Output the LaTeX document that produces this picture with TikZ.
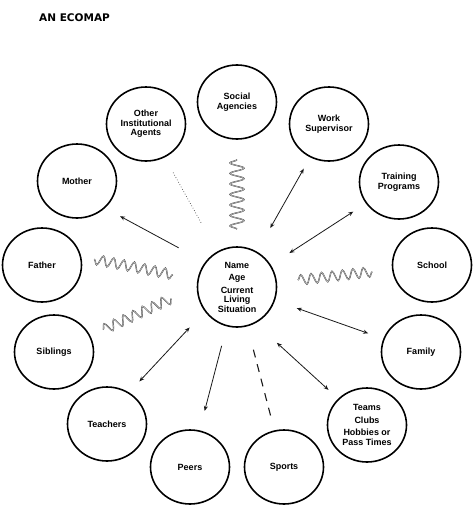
\documentclass[tikz,border=0pt]{standalone}
\usepackage{fontspec}
\setmainfont{Liberation Sans}
\newfontfamily\titlefont{DejaVu Sans}
\usetikzlibrary{shapes.geometric,arrows.meta,decorations.pathmorphing}
\definecolor{cLine}{RGB}{25,25,25}
\definecolor{cWave}{RGB}{70,70,70}
\definecolor{cWaveIn}{RGB}{215,215,215}
\tikzset{
  basebox/.style={ellipse,draw=black,line width=1.6pt,align=center,inner sep=0pt,
                  font=\fontsize{9}{9.5}\selectfont\bfseries},
  econode/.style={basebox,minimum width=79pt,minimum height=74pt},
  hubnode/.style={basebox,minimum width=79pt,minimum height=80pt},
  arr/.style={-{Stealth[length=5pt,width=4pt]},line width=0.8pt,color=cLine},
  dblarr/.style={{Stealth[length=5pt,width=4pt]}-{Stealth[length=5pt,width=4pt]},
                 line width=0.8pt,color=cLine},
  wavyline/.style={draw=cWave,line width=0.45pt,double=cWaveIn,double distance=0.4pt,
                   decorate,decoration={snake,amplitude=5pt,segment length=10.5pt,
                                        pre=moveto,post=moveto}},
  dotline/.style={dotted,line width=0.7pt,color=black!70},
  dashline/.style={dash pattern=on 8pt off 7pt,line width=1.1pt,color=cLine}
}

\begin{document}
\begin{tikzpicture}[x=1pt,y=-1pt]

  \useasboundingbox (0,0) rectangle (474,520);

  \node[anchor=west,inner sep=0pt,font=\titlefont\fontsize{10.5}{12}\selectfont\bfseries]
      (title) at (39,18) {AN ECOMAP};

  % the person in the middle
  \node[hubnode] (ctr) at (237,287)
      {Name\\[3pt]Age\\[3pt]Current\\Living\\Situation};

  % the systems round the person
  \node[econode] (social)   at (237,102) {Social\\Agencies};
  \node[econode] (other)    at (146,124) {Other\\Institutional\\Agents};
  \node[econode] (work)     at (329,124) {Work\\Supervisor};
  \node[econode] (mother)   at (77,181)  {Mother};
  \node[econode] (training) at (399,182) {Training\\Programs};
  \node[econode] (father)   at (42,265)  {Father};
  \node[econode] (school)   at (432,265) {School};
  \node[econode] (siblings) at (54,352)  {Siblings};
  \node[econode] (family)   at (421,352) {Family};
  \node[econode] (teachers) at (107,424) {Teachers};
  \node[econode] (teams)    at (367,425)
      {Teams\\[3pt]Clubs\\[3pt]Hobbies or\\Pass Times};
  \node[econode] (peers)    at (190,467) {Peers};
  \node[econode] (sports)   at (284,467) {Sports};

  % ties
  \draw[wavyline,decoration={amplitude=7pt,segment length=10.5pt,
        pre length=17pt,post length=18pt}] (ctr) -- (social);
  \draw[dotline,shorten <=33pt,shorten >=17pt] (ctr) -- (other);
  \draw[dblarr,shorten <=27pt,shorten >=13pt] (ctr) -- (work);
  \draw[arr,shorten <=30pt,shorten >=17pt] (ctr.142) -- (mother.-44);
  \draw[dblarr,shorten <=22pt,shorten >=15pt] (ctr) -- (training);
  \draw[wavyline,decoration={pre length=25pt,post length=12pt}]
      (ctr) -- ([yshift=8pt]father.east);
  \draw[wavyline,decoration={pre length=28pt,post length=11pt}]
      (ctr.west) -- (siblings);
  \draw[wavyline,decoration={pre length=21pt,post length=19pt}]
      (ctr) -- (school);
  \draw[dblarr,shorten <=23pt,shorten >=16pt] (ctr) -- (family);
  \draw[dblarr,shorten <=29pt,shorten >=13pt] (ctr.-63) -- (teams);
  \draw[dashline,shorten <=24pt,shorten >=14pt] (ctr) -- (sports);
  \draw[arr,shorten <=20pt,shorten >=20pt] (ctr) -- (peers);
  \draw[dblarr,shorten <=22pt,shorten >=15pt] (ctr.217) -- (teachers.55);

\end{tikzpicture}
\end{document}
